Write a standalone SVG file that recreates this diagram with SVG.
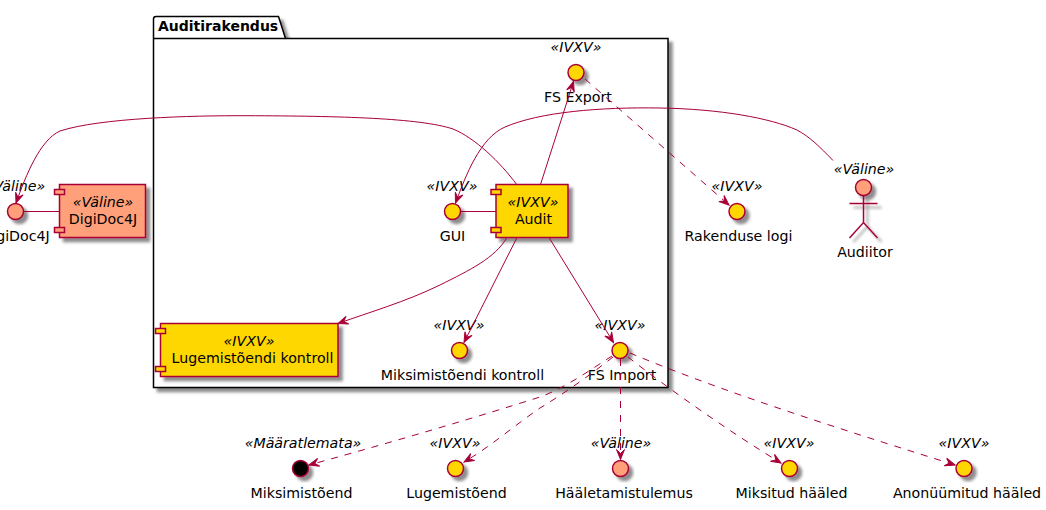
<svg xmlns="http://www.w3.org/2000/svg" width="1046" height="510" viewBox="0 0 1046 510">
<style>
text{font-family:"DejaVu Sans",sans-serif;font-size:14.2px;fill:#000;text-anchor:middle}
.s{font-style:italic}
.b{font-weight:bold;font-size:14px;text-anchor:start}
.e{fill:none;stroke:#A80036;stroke-width:1;marker-end:url(#arr)}
.p{fill:none;stroke:#A80036;stroke-width:1}
.d{stroke-dasharray:7,7}
.i{stroke:#A80036;stroke-width:1.5;filter:url(#sh)}
.n{filter:none}
.g{fill:#FFD700}
.o{fill:#FFA07A}
.k{fill:#000}
.a{fill:none;stroke:#A80036;stroke-width:1.5}
.pk{fill:#fff;stroke:#000;stroke-width:1.5}
</style>
<defs>
<filter id="sh" x="-30%" y="-30%" width="170%" height="170%"><feGaussianBlur in="SourceAlpha" stdDeviation="1.7"/><feOffset dx="4" dy="4"/><feColorMatrix values="0 0 0 0 0 0 0 0 0 0 0 0 0 0 0 0 0 0 0.45 0"/><feMerge><feMergeNode/><feMergeNode in="SourceGraphic"/></feMerge></filter>
<marker id="arr" markerUnits="userSpaceOnUse" markerWidth="14" markerHeight="12" refX="10" refY="6" orient="auto" overflow="visible"><path d="M10,6 L0,2 L4,6 L0,10 Z" fill="#A80036" stroke="#A80036"/></marker>
</defs>
<g id="pkg">
<path class="pk" filter="url(#sh)" d="M153.500,38.500 V19 Q153.500,16.500 156,16.500 H278.500 L285.500,38.500 H668 V387.500 H153.500 Z"/>
<path d="M153.500,38.500 H285.500" stroke="#000" stroke-width="1.5" fill="none"/>
<text class="b" x="158" y="31">Auditirakendus</text>
</g>
<g id="n-digidoc-if"><circle class="i o" cx="15.500" cy="211.500" r="8"/><text class="s" x="15" y="191">«Väline»</text><text x="15.500" y="241">DigiDoc4J</text></g>
<g id="n-digidoc"><rect class="i o" x="59.500" y="184.500" width="86" height="53"/><rect class="i o n" x="54.500" y="189.500" width="10" height="5"/><rect class="i o n" x="54.500" y="227.500" width="10" height="5"/><text class="s" x="103" y="207">«Väline»</text><text x="103" y="224">DigiDoc4J</text></g>
<g id="n-audit"><rect class="i g" x="496" y="184.500" width="72" height="53"/><rect class="i g n" x="491" y="189.500" width="10" height="5"/><rect class="i g n" x="491" y="227.500" width="10" height="5"/><text class="s" x="533" y="207">«IVXV»</text><text x="533.500" y="224">Audit</text></g>
<g id="n-lk"><rect class="i g" x="160.500" y="323.500" width="177.500" height="53"/><rect class="i g n" x="155.500" y="328.500" width="10" height="5"/><rect class="i g n" x="155.500" y="366.500" width="10" height="5"/><text class="s" x="249" y="346">«IVXV»</text><text x="252.500" y="363">Lugemistõendi kontroll</text></g>
<g id="n-export"><circle class="i g" cx="576" cy="72.500" r="8"/><text class="s" x="576" y="52">«IVXV»</text><text x="578" y="102">FS Export</text></g>
<g id="n-gui"><circle class="i g" cx="452.500" cy="211.500" r="8"/><text class="s" x="452" y="191">«IVXV»</text><text x="452.500" y="241">GUI</text></g>
<g id="n-mk"><circle class="i g" cx="459.500" cy="350.500" r="8"/><text class="s" x="459" y="330">«IVXV»</text><text x="462.500" y="380">Miksimistõendi kontroll</text></g>
<g id="n-import"><circle class="i g" cx="620" cy="350.500" r="8"/><text class="s" x="620" y="330">«IVXV»</text><text x="622" y="380">FS Import</text></g>
<g id="n-logi"><circle class="i g" cx="737" cy="211.500" r="8"/><text class="s" x="737" y="191">«IVXV»</text><text x="738.500" y="241">Rakenduse logi</text></g>
<g id="n-audiitor"><g filter="url(#sh)"><circle class="i o n" cx="863.500" cy="187.500" r="8"/><path class="a" d="M863.500,195.500 V222.500 M849.500,203.500 H877.500 M849.500,238 L863.500,222.500 L877.500,238"/></g><text class="s" x="864" y="174">«Väline»</text><text x="865" y="257">Audiitor</text></g>
<g id="n-miks"><circle class="i k" cx="300.500" cy="468.500" r="8"/><text class="s" x="303" y="448">«Määratlemata»</text><text x="301.500" y="498">Miksimistõend</text></g>
<g id="n-lug"><circle class="i g" cx="455.500" cy="468.500" r="8"/><text class="s" x="455" y="448">«IVXV»</text><text x="456.500" y="498">Lugemistõend</text></g>
<g id="n-hl"><circle class="i o" cx="620.500" cy="468.500" r="8"/><text class="s" x="621" y="448">«Väline»</text><text x="624" y="498">Hääletamistulemus</text></g>
<g id="n-mh"><circle class="i g" cx="789.500" cy="468.500" r="8"/><text class="s" x="789" y="448">«IVXV»</text><text x="791.500" y="498">Miksitud hääled</text></g>
<g id="n-ah"><circle class="i g" cx="964" cy="468.500" r="8"/><text class="s" x="964" y="448">«IVXV»</text><text x="967" y="498">Anonüümitud hääled</text></g>
<g id="connectors">
<path class="p" d="M23.500,211.500 H59.500"/>
<path class="p" d="M460.500,211.500 H496"/>
<path class="e" d="M516.700,184.500 C500,162 475,138 453,129 C420,118 340,116 247,115.700 C190,115.500 100,118 60,131 C40,140 26,175 16,203"/>
<path class="e" d="M833,160.500 C820,147 810,137 797,130 C770,118 720,109 660,108 C600,107 540,112 505,127 C480,138 466,175 455.500,203"/>
<path class="e" d="M540.500,184.500 L573.500,81.500"/>
<path class="e" d="M549,237.500 L613.500,342.500"/>
<path class="e" d="M517,237.500 L464,342.500"/>
<path class="e" d="M507,237.500 C495,258 470,270 440,285 C405,302 370,312 338,323.500"/>
<path class="e d" d="M585,79 L729,205"/>
<path class="e d" d="M612,356 C590,370 565,388 540,397 C480,416 400,440 309,465"/>
<path class="e d" d="M613,357 C590,375 565,393 540,408 C515,425 490,447 464,462"/>
<path class="e d" d="M620.500,359 V459.500"/>
<path class="e d" d="M628,357 C670,390 730,432 781,463"/>
<path class="e d" d="M630,353 C730,395 860,435 955,465"/>
</g>
</svg>
